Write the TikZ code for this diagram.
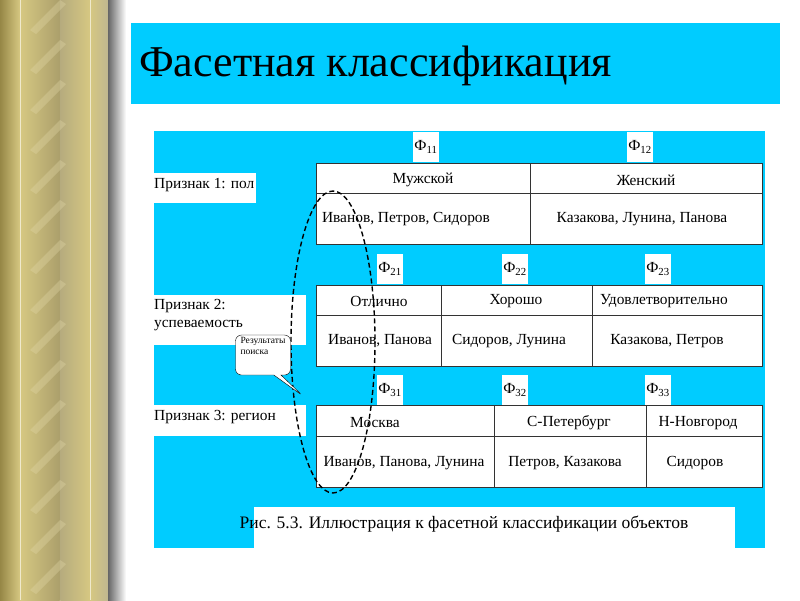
\documentclass[tikz,border=0pt]{standalone}
\usepackage{fontspec}
\setmainfont{Liberation Serif}
\usetikzlibrary{shapes.callouts}
\definecolor{cy}{RGB}{0,204,255}
\definecolor{gold}{RGB}{214,200,130}
\definecolor{golddk}{RGB}{150,135,70}
\begin{document}
\begin{tikzpicture}[x=1pt,y=-1pt,
  cell/.style={draw=black!80,line width=0.8pt,fill=white},
  txt/.style={font=\fontsize{15.4}{18}\selectfont,inner sep=1pt},
  phi/.style={font=\fontsize{15.4}{18}\selectfont,fill=white,minimum width=26pt,minimum height=30pt,inner sep=0pt}]
\useasboundingbox (0,0) rectangle (800,600);
\fill[white] (0,0) rectangle (800,600);
% decorative strip
\shade[left color=golddk,right color=gold] (0,0) rectangle (20,600);
\shade[left color=gold,right color=golddk!80] (20,0) rectangle (60,600);
\shade[left color=golddk!70,right color=gold] (60,0) rectangle (90,600);
\shade[left color=gold,right color=golddk!60] (90,0) rectangle (108,600);
\foreach \y in {-40,0,...,640} \fill[gold!70!white,opacity=0.35] (30,\y+30) -- (60,\y) -- (66,\y+4) -- (36,\y+34) -- cycle;
\draw[gold!40!white,line width=0.6pt] (20,0)--(20,600) (90,0)--(90,600);
\shade[left color=black!60,right color=white] (108,0) rectangle (126,600);
% title
\fill[cy] (131,23) rectangle (780,104);
\node[anchor=west,font=\fontsize{44}{48}\selectfont,inner sep=0pt] (title) at (139,66) {Фасетная классификация};
% panel
\fill[cy] (154,131) rectangle (765,548);
% row 1
\node[phi] (f11) at (426,147) {Ф\textsubscript{11}};
\node[phi] (f12) at (640,147) {Ф\textsubscript{12}};
\fill[white] (154,173) rectangle (256,203);
\node[txt,anchor=west] (p1) at (153,185) {Признак 1: пол};
\draw[cell] (316,163) rectangle (762,244);
\draw[black!80,line width=0.8pt] (316,193)--(762,193) (530,163)--(530,244);
\node[txt] (m) at (423,180) {Мужской};
\node[txt] (w) at (646,180) {Женский};
\node[txt] (m1) at (406,219) {Иванов, Петров, Сидоров};
\node[txt] (w1) at (642,219) {Казакова, Лунина, Панова};
% row 2
\node[phi] (f21) at (390,269) {Ф\textsubscript{21}};
\node[phi] (f22) at (515,269) {Ф\textsubscript{22}};
\node[phi] (f23) at (658,269) {Ф\textsubscript{23}};
\fill[white] (154,295) rectangle (306,345);
\node[txt,anchor=north west,align=left] (p2) at (153,298) {Признак 2:\\успеваемость};
\draw[cell] (316,285) rectangle (762,366);
\draw[black!80,line width=0.8pt] (316,315)--(762,315) (441,285)--(441,366) (592,285)--(592,366);
\node[txt] (a1) at (379,301) {Отлично};
\node[txt] (a2) at (516,301) {Хорошо};
\node[txt] (a3) at (664,301) {Удовлетворительно};
\node[txt] (a4) at (380,341) {Иванов, Панова};
\node[txt] (a5) at (509,341) {Сидоров, Лунина};
\node[txt] (a6) at (667,341) {Казакова, Петров};
% row 3
\node[phi] (f31) at (390,390) {Ф\textsubscript{31}};
\node[phi] (f32) at (515,390) {Ф\textsubscript{32}};
\node[phi] (f33) at (658,390) {Ф\textsubscript{33}};
\fill[white] (154,405) rectangle (306,436);
\node[txt,anchor=west] (p3) at (153,417) {Признак 3: регион};
\draw[cell] (316,405) rectangle (762,487);
\draw[black!80,line width=0.8pt] (316,436)--(762,436) (494,405)--(494,487) (646,405)--(646,487);
\node[txt] (r1) at (375,423) {Москва};
\node[txt] (r2) at (569,423) {С-Петербург};
\node[txt] (r3) at (698,423) {Н-Новгород};
\node[txt] (r4) at (404,463) {Иванов, Панова, Лунина};
\node[txt] (r5) at (565,463) {Петров, Казакова};
\node[txt] (r6) at (695,463) {Сидоров};
% caption
\fill[white] (254,507) rectangle (735,548);
\node[txt,font=\fontsize{17.5}{20}\selectfont] (cap) at (464,524) {Рис. 5.3. Иллюстрация к фасетной классификации объектов};
% ellipse
\draw[line width=1.4pt,dash pattern=on 5pt off 3pt] (333,342) ellipse [x radius=42,y radius=151];
% callout
\node[rectangle callout,rounded corners=6pt,draw,fill=white,minimum width=55pt,minimum height=40pt,
  callout absolute pointer={(303,396)},align=left,font=\fontsize{9.5}{11}\selectfont,inner sep=2pt] (cl) at (263,355) {Результаты\\поиска\\[7pt]};
\end{tikzpicture}
\end{document}
